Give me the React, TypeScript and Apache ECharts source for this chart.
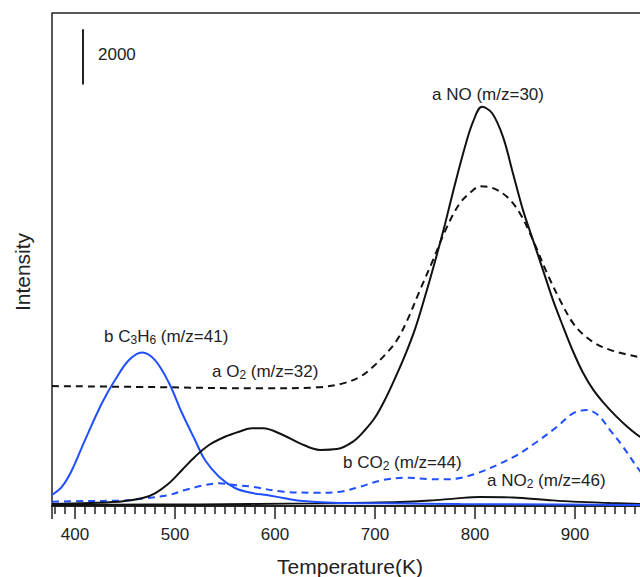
import React, { useEffect, useRef } from "react";
import * as echarts from "echarts";

// Temperature (K) vs intensity (a.u.)
const noData: [number, number][] = [
  [377, 72], [444, 156], [467, 279], [480, 459], [494, 821], [507, 1302], [520, 1783],
  [534, 2206], [550, 2506], [564, 2687], [577, 2810], [588, 2810], [608, 2568],
  [625, 2268], [645, 2030], [662, 2060], [678, 2330], [690, 2750], [700, 3200],
  [710, 3850], [720, 4620], [730, 5450], [740, 6400], [750, 7580], [760, 8850],
  [770, 10200], [780, 11650], [790, 13000], [798, 13900], [807, 14443], [817, 14220],
  [828, 13357], [838, 12034], [848, 10706], [858, 9621], [868, 8536], [878, 7451],
  [888, 6500], [898, 5600], [908, 4820], [918, 4220], [928, 3760], [940, 3290],
  [952, 2880], [965, 2507], [980, 2200],
];
const o2Data: [number, number][] = [
  [377, 4340], [475, 4304], [587, 4257], [642, 4293], [668, 4438], [685, 4677],
  [698, 5038], [712, 5550], [722, 6004], [732, 6700], [745, 7813], [758, 8898],
  [772, 10102], [785, 10959], [798, 11429], [805, 11574], [818, 11502], [832, 11187],
  [845, 10587], [858, 9621], [872, 8428], [885, 7451], [898, 6619], [910, 6150],
  [922, 5850], [935, 5650], [950, 5500], [965, 5380], [980, 5300],
];
const no2Data: [number, number][] = [
  [377, 36], [475, 54], [575, 72], [655, 98], [725, 145], [755, 199], [782, 279],
  [805, 326], [838, 307], [872, 217], [898, 156], [935, 108], [965, 80], [980, 72],
];
const c3h6Data: [number, number][] = [
  [377, 398], [387, 698], [397, 1302], [410, 2387], [427, 3725], [440, 4557],
  [454, 5281], [467, 5559], [480, 5281], [494, 4449], [507, 3364], [520, 2387],
  [530, 1664], [544, 1060], [560, 651], [577, 470], [592, 398], [608, 289], [625, 192],
  [658, 119], [708, 98], [785, 72], [885, 54], [965, 36], [980, 36],
];
const co2Data: [number, number][] = [
  [377, 156], [410, 181], [444, 192], [470, 279], [494, 398], [510, 579], [527, 734],
  [544, 821], [560, 760], [577, 698], [608, 517], [642, 481], [665, 517], [685, 698],
  [708, 940], [732, 1024], [752, 977], [770, 966], [785, 1013], [802, 1183],
  [822, 1483], [842, 1845], [862, 2326], [882, 2868], [898, 3353], [912, 3472],
  [923, 3291], [935, 2749], [948, 2145], [962, 1411], [975, 800],
];
const scaleBarData: [number, number][] = [[408, 15250], [408, 17250]];
const scaleBarLabel = "2000";

const X_MIN = 377;
const X_MAX = 1000;
const Y_MAX = 17840;

const FONT = "'Liberation Sans', Arial, Helvetica, sans-serif";
const BLACK = "#111111";
const BLUE = "#1f4fff";
const TEXT = "#222222";

const rich = {
  sub: { fontSize: 12, lineHeight: 8, verticalAlign: "bottom" as const, fontFamily: FONT, fill: TEXT },
};

function label(text: string, x: number, y: number, align: string = "left") {
  return {
    type: "text",
    x,
    y,
    silent: true,
    style: {
      text,
      fontSize: 17,
      fontFamily: FONT,
      fill: TEXT,
      align,
      verticalAlign: "middle",
      lineHeight: 20,
      rich,
    },
  };
}

export default function App() {
  const ref = useRef<HTMLDivElement>(null);
  useEffect(() => {
    if (!ref.current) return;
    const chart = echarts.init(ref.current, undefined, { renderer: "svg" });
    const line = (name: string, data: [number, number][], color: string, dashed: boolean, width = 2) => ({
      name,
      type: "line",
      data,
      smooth: 0.35,
      symbol: "none",
      silent: true,
      lineStyle: { color, width, type: dashed ? [7, 5] : "solid" },
      z: 3,
    });
    chart.setOption({
      animation: false,
      backgroundColor: "#ffffff",
      grid: {
        left: 52,
        top: 13,
        bottom: 71,
        right: 25,
        show: true,
        borderColor: "#222222",
        borderWidth: 1.5,
        containLabel: false,
      },
      xAxis: {
        type: "value",
        min: X_MIN,
        max: X_MAX,
        minInterval: 100,
        maxInterval: 100,
        axisLine: { show: true, onZero: false, lineStyle: { color: "#222222", width: 2 } },
        axisTick: { show: true, inside: false, length: 13, lineStyle: { color: "#222222", width: 1.5 } },
        minorTick: { show: true, splitNumber: 10, length: 8, lineStyle: { color: "#222222", width: 1.5 } },
        splitLine: { show: false },
        axisLabel: {
          show: true,
          margin: 20,
          fontSize: 17,
          fontFamily: FONT,
          color: TEXT,
          showMinLabel: false,
          showMaxLabel: false,
        },
      },
      yAxis: {
        type: "value",
        min: 0,
        max: Y_MAX,
        show: false,
        splitLine: { show: false },
      },
      series: [
        line("a O2 (m/z=32)", o2Data, BLACK, true),
        line("a NO2 (m/z=46)", no2Data, BLACK, false, 1.8),
        line("b C3H6 (m/z=41)", c3h6Data, BLUE, false),
        line("b CO2 (m/z=44)", co2Data, BLUE, true),
        line("a NO (m/z=30)", noData, BLACK, false),
        {
          name: "scale",
          type: "line",
          data: scaleBarData,
          symbol: "none",
          silent: true,
          lineStyle: { color: "#222222", width: 2 },
        },
      ],
      graphic: [
        label(scaleBarLabel, 98, 54),
        label("a NO (m/z=30)", 488, 94, "center"),
        label("a O{sub|2} (m/z=32)", 212, 371),
        label("b C{sub|3}H{sub|6} (m/z=41)", 104, 336),
        label("b CO{sub|2} (m/z=44)", 343, 462),
        label("a NO{sub|2} (m/z=46)", 487, 480),
        {
          type: "text",
          x: 350,
          y: 566,
          silent: true,
          style: {
            text: "Temperature(K)",
            fontSize: 21,
            fontFamily: FONT,
            fill: TEXT,
            align: "center",
            verticalAlign: "middle",
          },
        },
        {
          type: "text",
          x: 22,
          y: 272,
          rotation: Math.PI / 2,
          silent: true,
          style: {
            text: "Intensity",
            fontSize: 21,
            fontFamily: FONT,
            fill: TEXT,
            align: "center",
            verticalAlign: "middle",
          },
        },
      ],
    });
    return () => chart.dispose();
  }, []);
  return (
    <div
      style={{
        position: "absolute",
        left: 0,
        top: 0,
        width: 640,
        height: 577,
        overflow: "hidden",
        background: "#fff",
      }}
    >
      <div ref={ref} style={{ width: 700, height: 577 }} />
    </div>
  );
}
